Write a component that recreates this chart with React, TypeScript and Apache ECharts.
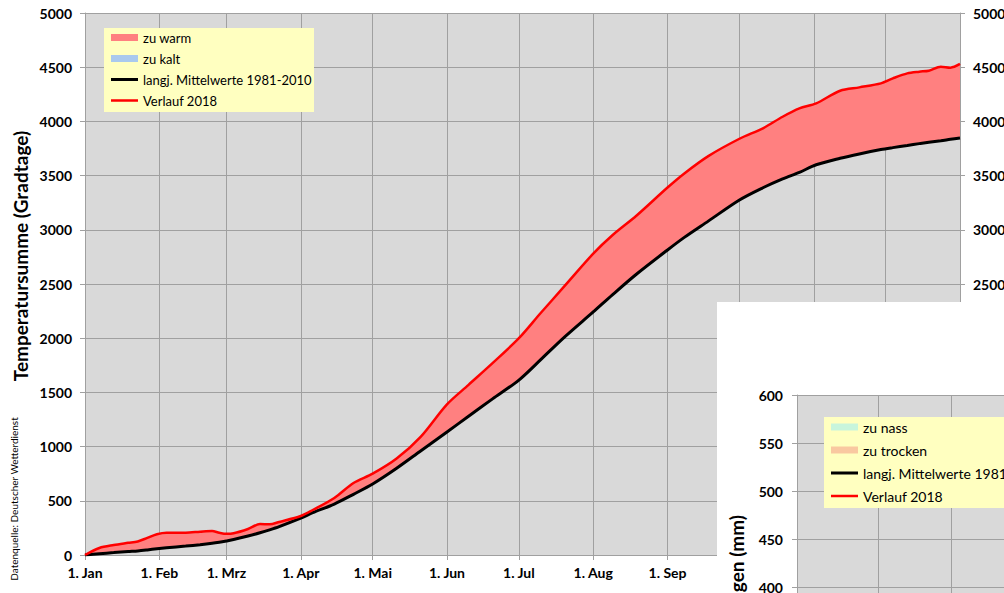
import React, { useEffect, useRef } from 'react';
import * as echarts from 'echarts';

// ---- data (day of year 2018, 0 = 1 Jan) ----
const days = [0, 6, 12, 18, 22, 26, 30, 34, 42, 48, 53, 56, 59, 62, 68, 73, 77, 81, 90, 95, 104, 112, 120, 130, 140, 151, 160, 170, 181, 190, 200, 212, 220, 230, 243, 250, 260, 273, 283, 291, 298, 305, 315, 323, 332, 337, 343, 348, 352, 357, 361, 365];
const meanSum = [0, 12, 22, 32, 38, 47, 57, 66, 82, 95, 108, 118, 130, 143, 175, 205, 232, 262, 340, 390, 470, 560, 655, 800, 960, 1135, 1280, 1440, 1614, 1800, 2010, 2242, 2400, 2590, 2814, 2930, 3080, 3275, 3390, 3470, 3530, 3600, 3660, 3700, 3740, 3758, 3778, 3795, 3808, 3822, 3835, 3847];
const sum2018 = [0, 65, 92, 112, 125, 158, 192, 206, 206, 215, 221, 205, 195, 200, 240, 285, 283, 305, 360, 415, 526, 664, 750, 890, 1090, 1390, 1570, 1770, 2000, 2230, 2480, 2780, 2950, 3130, 3390, 3520, 3680, 3840, 3939, 4043, 4120, 4166, 4283, 4314, 4351, 4397, 4443, 4459, 4468, 4505, 4496, 4530];
const monthLabels = ['1. Jan', '1. Feb', '1. Mrz', '1. Apr', '1. Mai', '1. Jun', '1. Jul', '1. Aug', '1. Sep', '1. Okt', '1. Nov', '1. Dez'];
const legendTemp = ['zu warm', 'zu kalt', 'langj. Mittelwerte 1981-2010', 'Verlauf 2018'];
const legendPrec = ['zu nass', 'zu trocken', 'langj. Mittelwerte 1981-2010', 'Verlauf 2018'];

const YEAR = 2018;
const DAY = 86400000;
const t0 = new Date(YEAR, 0, 1).getTime();
const tEnd = new Date(YEAR + 1, 0, 1).getTime();
const toTs = (d: number) => t0 + d * DAY;

const GRID = '#A0A0A0';
const FONT = 'Lato';

// thin horizontal bar icons for line legend entries (bounding box 27 x 7)
const ICON_BLACK = 'path://M0,0h0.01v0.01h-0.01z M0,2h27v3h-27z M0,6.99h0.01v0.01h-0.01z';
const ICON_RED = 'path://M0,0h0.01v0.01h-0.01z M0,2.25h27v2.5h-27z M0,6.99h0.01v0.01h-0.01z';

function monthFormatter(v: any) {
  const d = new Date(typeof v === 'number' ? v : Number(v));
  if (d.getDate() !== 1 || d.getFullYear() !== YEAR) return '';
  return monthLabels[d.getMonth()];
}

export default function App() {
  const ref = useRef<HTMLDivElement>(null);
  useEffect(() => {
    if (!ref.current) return;
    const chart = echarts.init(ref.current, undefined, { renderer: 'svg' });

    const base = days.map((d, i) => [toTs(d), Math.min(meanSum[i], sum2018[i])]);
    const warm = days.map((d, i) => [toTs(d), Math.max(0, sum2018[i] - meanSum[i])]);
    const cold = days.map((d, i) => [toTs(d), Math.max(0, meanSum[i] - sum2018[i])]);
    const meanData = days.map((d, i) => [toTs(d), meanSum[i]]);
    const data2018 = days.map((d, i) => [toTs(d), sum2018[i]]);

    const tickLabel = { fontFamily: FONT, fontWeight: 'bold', fontSize: 14, color: '#000' };
    const plain = (v: number) => String(v);

    const timeAxis = (gridIndex: number, z: number, showLabel: boolean) => ({
      type: 'time', gridIndex, min: t0, max: tEnd, z,
      minInterval: 28 * DAY, maxInterval: 31 * DAY,
      axisLine: { show: true, lineStyle: { color: GRID, width: 1 } },
      axisTick: { show: true, length: 5, lineStyle: { color: GRID } },
      axisLabel: { ...tickLabel, show: showLabel, formatter: monthFormatter, margin: 10, showMaxLabel: false, hideOverlap: false },
      splitLine: { show: true, lineStyle: { color: GRID, width: 1 } },
    });

    const lineItems = (names: string[]) => [
      { name: names[0], icon: 'rect', itemStyle: { borderWidth: 0 } },
      { name: names[1], icon: 'rect', itemStyle: { borderWidth: 0 } },
      { name: names[2], icon: ICON_BLACK, itemStyle: { borderWidth: 0, color: '#000000' } },
      { name: names[3], icon: ICON_RED, itemStyle: { borderWidth: 0, color: '#FF0000' } },
    ];

    const option: any = {
      animation: false,
      textStyle: { fontFamily: FONT },
      grid: [
        { left: 85, top: 13, width: 875, height: 542, show: true, backgroundColor: '#D9D9D9', borderWidth: 0, outerBoundsMode: 'none', containLabel: false },
        { left: 797, top: 395, width: 954, height: 576, show: true, backgroundColor: '#D9D9D9', borderWidth: 0, z: 11, outerBoundsMode: 'none', containLabel: false },
      ],
      xAxis: [timeAxis(0, 0, true), timeAxis(1, 12, false)],
      yAxis: [
        {
          type: 'value', gridIndex: 0, position: 'left', min: 0, max: 5000, interval: 500,
          axisLine: { show: true, lineStyle: { color: GRID } },
          axisTick: { show: true, length: 5, lineStyle: { color: GRID } },
          axisLabel: { ...tickLabel, margin: 13, formatter: plain },
          splitLine: { show: true, lineStyle: { color: GRID, width: 1 } },
        },
        {
          type: 'value', gridIndex: 0, position: 'right', min: 0, max: 5000, interval: 500,
          axisLine: { show: true, lineStyle: { color: GRID } },
          axisTick: { show: true, length: 5, lineStyle: { color: GRID } },
          axisLabel: { ...tickLabel, margin: 13, formatter: plain },
          splitLine: { show: false },
        },
        {
          type: 'value', gridIndex: 1, position: 'left', min: 0, max: 600, interval: 50, z: 12,
          axisLine: { show: true, lineStyle: { color: GRID } },
          axisTick: { show: true, length: 5, lineStyle: { color: GRID } },
          axisLabel: { ...tickLabel, margin: 14, formatter: plain },
          splitLine: { show: true, lineStyle: { color: GRID, width: 1 } },
        },
      ],
      legend: [
        {
          data: lineItems(legendTemp),
          orient: 'vertical', left: 111, top: 31, itemWidth: 27, itemHeight: 7, itemGap: 8, padding: 0,
          selectedMode: false, z: 4,
          textStyle: { fontFamily: FONT, fontSize: 13, color: '#000' },
        },
        {
          data: lineItems(legendPrec),
          orient: 'vertical', left: 831, top: 420, itemWidth: 27, itemHeight: 7, itemGap: 9, padding: 0,
          selectedMode: false, z: 14,
          textStyle: { fontFamily: FONT, fontSize: 14, color: '#000' },
        },
      ],
      graphic: [
        { type: 'rect', z: 3, shape: { x: 104, y: 28, width: 210, height: 84 }, style: { fill: '#FFFFC0' } },
        {
          type: 'text', z: 3, x: 20, y: 256, rotation: Math.PI / 2,
          style: { text: 'Temperatursumme (Gradtage)', font: `bold 19px ${FONT}`, fill: '#000', align: 'center', verticalAlign: 'middle' },
        },
        {
          type: 'text', z: 3, x: 14, y: 499, rotation: Math.PI / 2,
          style: { text: 'Datenquelle: Deutscher Wetterdienst', font: `10px ${FONT}`, fill: '#000', align: 'center', verticalAlign: 'middle' },
        },
        { type: 'rect', z: 10, shape: { x: 717, y: 302, width: 400, height: 400 }, style: { fill: '#FFFFFF' } },
        { type: 'rect', z: 13, shape: { x: 824, y: 417, width: 300, height: 91 }, style: { fill: '#FFFFC0' } },
        {
          type: 'text', z: 12, x: 736, y: 515, rotation: Math.PI / 2,
          style: { text: 'Niederschlagsmengen (mm)', font: `bold 19px ${FONT}`, fill: '#000', align: 'right', verticalAlign: 'middle' },
        },
      ],
      series: [
        {
          name: '_base', type: 'line', xAxisIndex: 0, yAxisIndex: 0, stack: 'band', data: base,
          symbol: 'none', smooth: 0.3, silent: true, lineStyle: { width: 0, opacity: 0 },
        },
        {
          name: 'zu warm', type: 'line', xAxisIndex: 0, yAxisIndex: 0, stack: 'band', data: warm,
          symbol: 'none', smooth: 0.3, silent: true, color: '#FF8080', itemStyle: { color: '#FF8080' },
          lineStyle: { width: 0 }, areaStyle: { color: '#FF8080', opacity: 1 },
        },
        {
          name: 'zu kalt', type: 'line', xAxisIndex: 0, yAxisIndex: 0, stack: 'band', data: cold,
          symbol: 'none', smooth: 0.3, silent: true, color: '#A9C9EE', itemStyle: { color: '#A9C9EE' },
          lineStyle: { width: 0 }, areaStyle: { color: '#A9C9EE', opacity: 1 },
        },
        {
          name: 'langj. Mittelwerte 1981-2010', type: 'line', xAxisIndex: 0, yAxisIndex: 0, data: meanData,
          symbol: 'none', smooth: 0.3, color: '#000000', lineStyle: { color: '#000000', width: 3 },
        },
        {
          name: 'Verlauf 2018', type: 'line', xAxisIndex: 0, yAxisIndex: 0, data: data2018,
          symbol: 'none', smooth: 0.3, color: '#FF0000', lineStyle: { color: '#FF0000', width: 2.5 },
        },
        {
          name: 'zu nass', type: 'line', xAxisIndex: 1, yAxisIndex: 2, data: [],
          symbol: 'none', color: '#C8F5DC', itemStyle: { color: '#C8F5DC' }, lineStyle: { width: 0 },
        },
        {
          name: 'zu trocken', type: 'line', xAxisIndex: 1, yAxisIndex: 2, data: [],
          symbol: 'none', color: '#F9C8A0', itemStyle: { color: '#F9C8A0' }, lineStyle: { width: 0 },
        },
      ],
    };
    chart.setOption(option);
    return () => chart.dispose();
  }, []);

  return (
    <div
      ref={ref}
      style={{ position: 'absolute', left: 0, top: 0, width: 1004, height: 593, overflow: 'hidden', background: '#fff' }}
    />
  );
}
